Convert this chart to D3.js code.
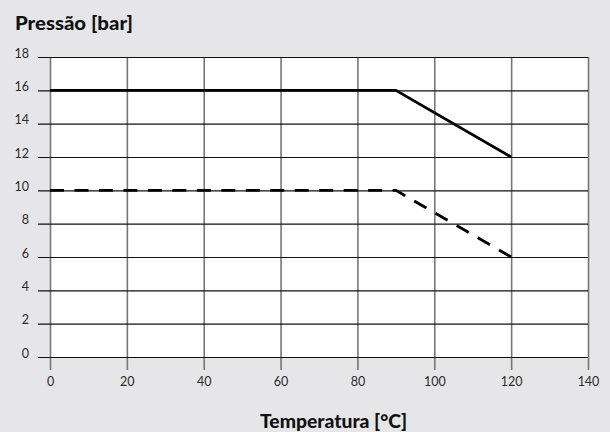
<!DOCTYPE html>
<html>
<head>
<meta charset="utf-8">
<script src="https://cdn.jsdelivr.net/npm/d3@7"></script>
<style>
  html, body { margin: 0; padding: 0; background: #e6e6e8; }
  svg { display: block; }
</style>
</head>
<body>
<svg id="chart" width="610" height="432"></svg>
<script>
// Temperature steps (°C) and allowed pressure (bar) for each curve
const temperature = [0, 90, 120];
const pressureSolid = [16, 16, 12];
const pressureDashed = [10, 10, 6];
const xTicks = [0, 20, 40, 60, 80, 100, 120, 140];
const yTicks = [0, 2, 4, 6, 8, 10, 12, 14, 16, 18];
const yTitle = "Pressão [bar]";
const xTitle = "Temperatura [°C]";

const svg = d3.select("#chart");
const plot = { left: 50, right: 588, top: 57, bottom: 357 };

const x = d3.scaleLinear().domain([0, 140]).range([plot.left, plot.right]);
const y = d3.scaleLinear().domain([0, 18]).range([plot.bottom, plot.top]);

svg.append("rect").attr("width", 610).attr("height", 432).attr("fill", "#e6e6e8");
svg.append("rect")
  .attr("x", plot.left).attr("y", plot.top)
  .attr("width", plot.right - plot.left).attr("height", plot.bottom - plot.top)
  .attr("fill", "#ffffff");

// Vertical grid lines with bottom tick marks
const xAxis = d3.axisBottom(x).tickValues(xTicks).tickSize(plot.bottom - plot.top + 13).tickSizeOuter(0).tickPadding(7);
const gx = svg.append("g").attr("transform", `translate(0,${plot.top})`).call(xAxis);
gx.select(".domain").remove();
gx.selectAll(".tick line").attr("stroke", "#777").attr("stroke-width", 1.6);
gx.selectAll(".tick text")
  .attr("font-family", "Lato, 'Noto Sans', sans-serif")
  .attr("font-size", 12.5)
  .attr("fill", "#2a2a2a");

// Horizontal grid lines with left tick marks
const yAxis = d3.axisLeft(y).tickValues(yTicks).tickSize(plot.right - plot.left + 12).tickSizeOuter(0).tickPadding(9);
const gy = svg.append("g").attr("transform", `translate(${plot.right},0)`).call(yAxis);
gy.select(".domain").remove();
gy.selectAll(".tick line").attr("stroke", "#111").attr("stroke-width", 1.2);
gy.selectAll(".tick text")
  .attr("font-family", "Lato, 'Noto Sans', sans-serif")
  .attr("font-size", 12.5)
  .attr("fill", "#2a2a2a")
  .attr("dy", "0");

const line = d3.line().x(d => x(d[0])).y(d => y(d[1]));

svg.append("path")
  .datum(temperature.map((t, i) => [t, pressureSolid[i]]))
  .attr("d", line)
  .attr("fill", "none").attr("stroke", "#000").attr("stroke-width", 2.8);

const dashed = svg.append("path")
  .datum(temperature.map((t, i) => [t, pressureDashed[i]]))
  .attr("d", line)
  .attr("fill", "none").attr("stroke", "#000").attr("stroke-width", 2.8);

// Stretch the gap slightly so the dashed curve finishes on a dash
const dashLen = 14;
const len = dashed.node().getTotalLength();
const periods = Math.round((len - dashLen) / 24);
const gap = (len - dashLen) / periods - dashLen;
dashed.attr("stroke-dasharray", `${dashLen} ${gap}`);

svg.append("text")
  .attr("x", 15).attr("y", 30)
  .attr("font-family", "Lato, sans-serif")
  .attr("font-weight", 900)
  .attr("font-size", 18)
  .attr("textLength", 118)
  .attr("lengthAdjust", "spacingAndGlyphs")
  .attr("fill", "#111")
  .text(yTitle);

svg.append("text")
  .attr("x", 260).attr("y", 428)
  .attr("font-family", "Lato, sans-serif")
  .attr("font-weight", 900)
  .attr("font-size", 18)
  .attr("textLength", 147)
  .attr("lengthAdjust", "spacingAndGlyphs")
  .attr("fill", "#111")
  .text(xTitle);
</script>
</body>
</html>
